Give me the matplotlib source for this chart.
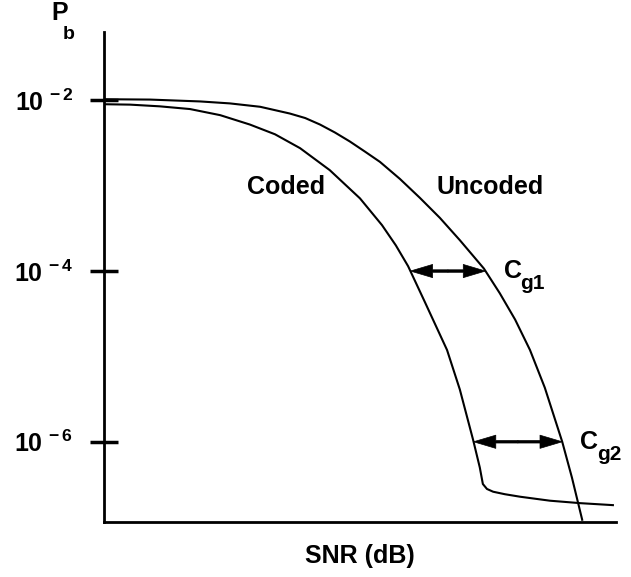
import numpy as np
import matplotlib.pyplot as plt

plt.rcParams['font.family'] = ['Liberation Sans', 'DejaVu Sans']
plt.rcParams['mathtext.fontset'] = 'custom'
plt.rcParams['mathtext.rm'] = 'Liberation Sans'
plt.rcParams['mathtext.bf'] = 'Liberation Sans:bold'

# SNR (dB) and bit error probability for both curves
snr_uncoded = [0.00, 0.90, 1.88, 2.46, 3.05, 3.63, 3.93, 4.22, 4.51, 4.80, 5.10, 5.39,
               5.78, 6.17, 6.56, 6.95, 7.42, 7.73, 8.03, 8.32, 8.61, 8.95, 9.14, 9.34]
pb_uncoded = [1.03e-2, 1.02e-2, 9.7e-3, 9.2e-3, 8.4e-3, 7.0e-3, 6.2e-3, 5.2e-3, 4.2e-3,
              3.3e-3, 2.5e-3, 1.9e-3, 1.2e-3, 7.2e-4, 4.2e-4, 2.3e-4, 1.07e-4, 5.5e-5,
              2.7e-5, 1.19e-5, 4.3e-6, 1.0e-6, 3.8e-7, 1.22e-7]

snr_coded = [0.00, 0.51, 1.09, 1.68, 2.27, 2.85, 3.34, 3.83, 4.41, 5.00, 5.43, 5.70, 5.94,
             6.27, 6.70, 6.95, 7.21, 7.34, 7.40, 7.48, 7.60, 7.83, 8.13, 8.71, 9.30, 9.94]
pb_coded = [9.0e-3, 8.9e-3, 8.5e-3, 7.9e-3, 6.7e-3, 5.2e-3, 4.0e-3, 2.75e-3, 1.52e-3,
            7.1e-4, 3.45e-4, 2.0e-4, 1.14e-4, 4.3e-5, 1.19e-5, 4.1e-6, 1.05e-6, 5.0e-7,
            3.2e-7, 2.8e-7, 2.6e-7, 2.43e-7, 2.27e-7, 2.04e-7, 1.91e-7, 1.81e-7]

# probabilities where the coding gain is marked
gain_levels = [1e-4, 1e-6]
gain_subs = ['g1', 'g2']

ytick_vals = [1e-2, 1e-4, 1e-6]
ytick_labels = [r'$\mathbf{10^{\,-2}}$', r'$\mathbf{10^{\,-4}}$', r'$\mathbf{10^{\,-6}}$']


def snr_at(snr, pb, level):
    # both curves fall monotonically, so interpolate in log space
    return np.interp(np.log10(level), np.log10(pb)[::-1], np.asarray(snr)[::-1])


fig = plt.figure(figsize=(6.31, 5.77), dpi=100)
ax = fig.add_axes([0.1648, 0.0953, 0.8114, 0.8492])

ax.semilogy(snr_uncoded, pb_uncoded, color='black', lw=1.5)
ax.semilogy(snr_coded, pb_coded, color='black', lw=1.5)

ax.set_xlim(0, 10)
ax.set_ylim(10 ** -6.94, 10 ** -1.20)

arrow_kw = dict(facecolor='black', edgecolor='black', width=1.8, headwidth=9.5,
                headlength=16, shrink=0, lw=0.5)
for lvl, sub in zip(gain_levels, gain_subs):
    x0 = snr_at(snr_coded, pb_coded, lvl)
    x1 = snr_at(snr_uncoded, pb_uncoded, lvl)
    xm = 0.5 * (x0 + x1)
    # double-headed arrow: two halves pointing outwards from the middle
    ax.annotate('', xy=(x0, lvl), xytext=(xm, lvl), arrowprops=arrow_kw)
    ax.annotate('', xy=(x1, lvl), xytext=(xm, lvl), arrowprops=arrow_kw)
    ax.annotate('C', xy=(x1, lvl), xytext=(13, 0), textcoords='offset points',
                fontsize=18, fontweight='bold', ha='left', va='center')
    ax.annotate(sub, xy=(x1, lvl), xytext=(25, -9), textcoords='offset points',
                fontsize=15, fontweight='bold', ha='left', va='center')

ax.text(3.56, 10 ** -3.01, 'Coded', fontsize=18, fontweight='bold', ha='center', va='center')
ax.text(7.54, 10 ** -3.01, 'Uncoded', fontsize=18, fontweight='bold', ha='center', va='center')

ax.set_yticks(ytick_vals)
ax.set_yticklabels(ytick_labels, fontsize=18)
ax.minorticks_off()
ax.tick_params(axis='y', direction='inout', length=20, width=2.5, pad=12)
ax.set_xticks([])

for side in ['top', 'right']:
    ax.spines[side].set_visible(False)
for side in ['left', 'bottom']:
    ax.spines[side].set_linewidth(2)

ax.set_xlabel('SNR (dB)', fontsize=18, fontweight='bold', labelpad=16)
fig.text(0.094, 0.977, 'P', fontsize=18, fontweight='bold', ha='center', va='center')
fig.text(0.109, 0.940, 'b', fontsize=14, fontweight='bold', ha='center', va='center')

fig.savefig('out.png', dpi=100)
